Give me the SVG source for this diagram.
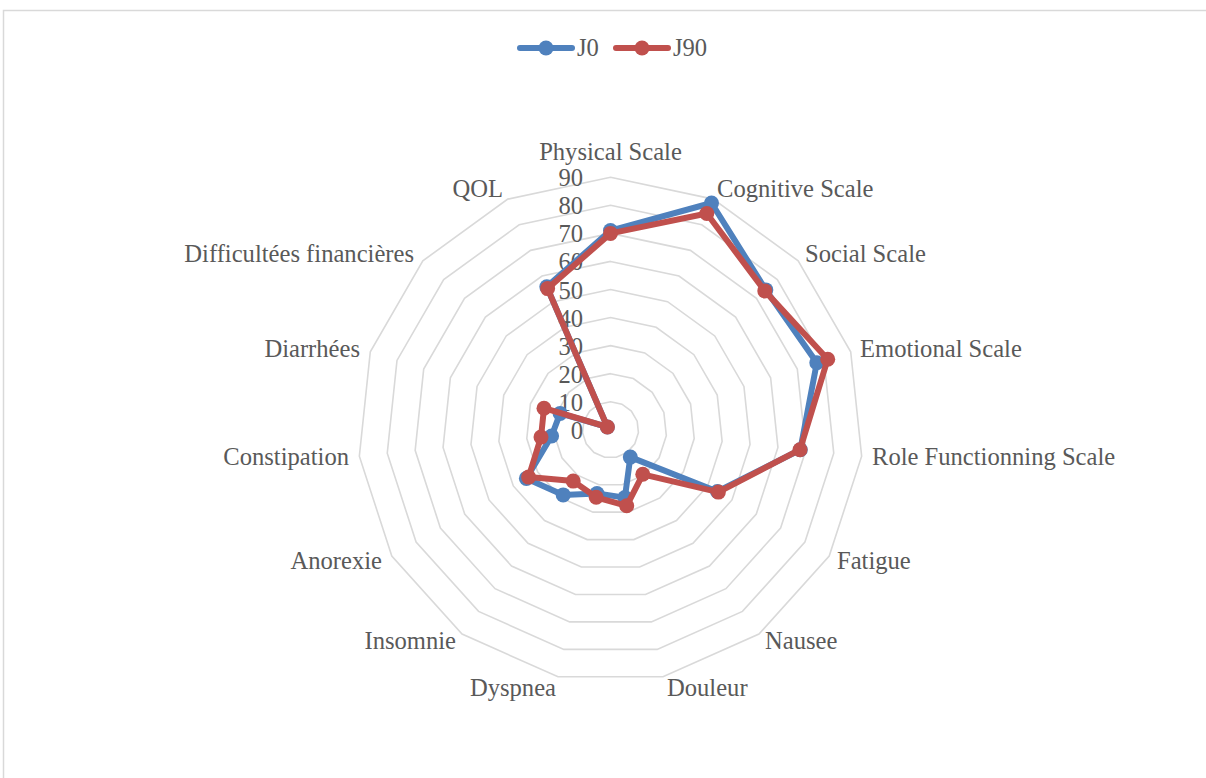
<svg xmlns="http://www.w3.org/2000/svg" width="1206" height="778" viewBox="0 0 1206 778">
<style>
.frame{fill:#ffffff;stroke:#d9d9d9;stroke-width:1.5}
.ring{fill:none;stroke:#d9d9d9;stroke-width:1.6;vector-effect:non-scaling-stroke}
.lbl{font-family:"Liberation Serif","Times New Roman",serif;font-size:24.6px;fill:#595959}
.tick{font-family:"Liberation Serif","Times New Roman",serif;font-size:24.6px;fill:#595959;text-anchor:end}
.s0{fill:none;stroke:#4f81bd;stroke-width:6;stroke-linejoin:round;stroke-linecap:round}
.s1{fill:none;stroke:#c0504d;stroke-width:6;stroke-linejoin:round;stroke-linecap:round}
.m0{fill:#4f81bd}
.m1{fill:#c0504d}
</style>
<rect x="0" y="0" width="1206" height="778" fill="#ffffff"/>
<rect class="frame" x="3.5" y="10.5" width="1240" height="800"/>
<g id="grid">
<polygon class="ring" transform="translate(610.5 429.8) scale(0.2806)" points="0,-100 40.67,-91.35 74.31,-66.91 95.11,-30.90 99.45,10.45 86.60,50 58.78,80.90 20.79,97.81 -20.79,97.81 -58.78,80.90 -86.60,50 -99.45,10.45 -95.11,-30.90 -74.31,-66.91 -40.67,-91.35"/>
<polygon class="ring" transform="translate(610.5 429.8) scale(0.5612)" points="0,-100 40.67,-91.35 74.31,-66.91 95.11,-30.90 99.45,10.45 86.60,50 58.78,80.90 20.79,97.81 -20.79,97.81 -58.78,80.90 -86.60,50 -99.45,10.45 -95.11,-30.90 -74.31,-66.91 -40.67,-91.35"/>
<polygon class="ring" transform="translate(610.5 429.8) scale(0.8418)" points="0,-100 40.67,-91.35 74.31,-66.91 95.11,-30.90 99.45,10.45 86.60,50 58.78,80.90 20.79,97.81 -20.79,97.81 -58.78,80.90 -86.60,50 -99.45,10.45 -95.11,-30.90 -74.31,-66.91 -40.67,-91.35"/>
<polygon class="ring" transform="translate(610.5 429.8) scale(1.1224)" points="0,-100 40.67,-91.35 74.31,-66.91 95.11,-30.90 99.45,10.45 86.60,50 58.78,80.90 20.79,97.81 -20.79,97.81 -58.78,80.90 -86.60,50 -99.45,10.45 -95.11,-30.90 -74.31,-66.91 -40.67,-91.35"/>
<polygon class="ring" transform="translate(610.5 429.8) scale(1.403)" points="0,-100 40.67,-91.35 74.31,-66.91 95.11,-30.90 99.45,10.45 86.60,50 58.78,80.90 20.79,97.81 -20.79,97.81 -58.78,80.90 -86.60,50 -99.45,10.45 -95.11,-30.90 -74.31,-66.91 -40.67,-91.35"/>
<polygon class="ring" transform="translate(610.5 429.8) scale(1.6836)" points="0,-100 40.67,-91.35 74.31,-66.91 95.11,-30.90 99.45,10.45 86.60,50 58.78,80.90 20.79,97.81 -20.79,97.81 -58.78,80.90 -86.60,50 -99.45,10.45 -95.11,-30.90 -74.31,-66.91 -40.67,-91.35"/>
<polygon class="ring" transform="translate(610.5 429.8) scale(1.9642)" points="0,-100 40.67,-91.35 74.31,-66.91 95.11,-30.90 99.45,10.45 86.60,50 58.78,80.90 20.79,97.81 -20.79,97.81 -58.78,80.90 -86.60,50 -99.45,10.45 -95.11,-30.90 -74.31,-66.91 -40.67,-91.35"/>
<polygon class="ring" transform="translate(610.5 429.8) scale(2.2448)" points="0,-100 40.67,-91.35 74.31,-66.91 95.11,-30.90 99.45,10.45 86.60,50 58.78,80.90 20.79,97.81 -20.79,97.81 -58.78,80.90 -86.60,50 -99.45,10.45 -95.11,-30.90 -74.31,-66.91 -40.67,-91.35"/>
<polygon class="ring" transform="translate(610.5 429.8) scale(2.5254)" points="0,-100 40.67,-91.35 74.31,-66.91 95.11,-30.90 99.45,10.45 86.60,50 58.78,80.90 20.79,97.81 -20.79,97.81 -58.78,80.90 -86.60,50 -99.45,10.45 -95.11,-30.90 -74.31,-66.91 -40.67,-91.35"/>
</g>
<g id="ticks">
<text class="tick" x="583" y="438.8">0</text>
<text class="tick" x="583" y="410.7">10</text>
<text class="tick" x="583" y="382.7">20</text>
<text class="tick" x="583" y="354.6">30</text>
<text class="tick" x="583" y="326.6">40</text>
<text class="tick" x="583" y="298.5">50</text>
<text class="tick" x="583" y="270.4">60</text>
<text class="tick" x="583" y="242.4">70</text>
<text class="tick" x="583" y="214.3">80</text>
<text class="tick" x="583" y="186.3">90</text>
</g>
<g id="axis-labels">
<text id="lbl-physical" class="lbl" x="610.5" y="160" text-anchor="middle">Physical Scale</text>
<text id="lbl-cognitive" class="lbl" x="717" y="197">Cognitive Scale</text>
<text id="lbl-social" class="lbl" x="805" y="261.5">Social Scale</text>
<text id="lbl-emotional" class="lbl" x="860" y="357">Emotional Scale</text>
<text id="lbl-role" class="lbl" x="872" y="464.5">Role Functionning Scale</text>
<text id="lbl-fatigue" class="lbl" x="837" y="569">Fatigue</text>
<text id="lbl-nausee" class="lbl" x="765" y="649">Nausee</text>
<text id="lbl-douleur" class="lbl" x="667" y="696">Douleur</text>
<text id="lbl-dyspnea" class="lbl" x="556" y="696" text-anchor="end">Dyspnea</text>
<text id="lbl-insomnie" class="lbl" x="456" y="649" text-anchor="end">Insomnie</text>
<text id="lbl-anorexie" class="lbl" x="382" y="569" text-anchor="end">Anorexie</text>
<text id="lbl-constipation" class="lbl" x="349" y="464.5" text-anchor="end">Constipation</text>
<text id="lbl-diarrhees" class="lbl" x="360" y="357" text-anchor="end">Diarrhées</text>
<text id="lbl-difficultes" class="lbl" x="414" y="261.5" text-anchor="end">Difficultées financières</text>
<text id="lbl-qol" class="lbl" x="503" y="197" text-anchor="end">QOL</text>
</g>
<g id="series-J0">
<polygon class="s0" points="610.5,230.6 711.5,203.0 765.8,289.9 816.8,362.8 800.3,449.7 717.4,491.5 630.3,457.1 624.9,497.6 597.0,493.5 563.2,494.9 526.4,478.4 551.6,436.0 560.1,413.4 607.4,427.0 546.8,286.7"/>
<circle class="m0" cx="610.5" cy="230.6" r="7.5"/>
<circle class="m0" cx="711.5" cy="203.0" r="7.5"/>
<circle class="m0" cx="765.8" cy="289.9" r="7.5"/>
<circle class="m0" cx="816.8" cy="362.8" r="7.5"/>
<circle class="m0" cx="800.3" cy="449.7" r="7.5"/>
<circle class="m0" cx="717.4" cy="491.5" r="7.5"/>
<circle class="m0" cx="630.3" cy="457.1" r="7.5"/>
<circle class="m0" cx="624.9" cy="497.6" r="7.5"/>
<circle class="m0" cx="597.0" cy="493.5" r="7.5"/>
<circle class="m0" cx="563.2" cy="494.9" r="7.5"/>
<circle class="m0" cx="526.4" cy="478.4" r="7.5"/>
<circle class="m0" cx="551.6" cy="436.0" r="7.5"/>
<circle class="m0" cx="560.1" cy="413.4" r="7.5"/>
<circle class="m0" cx="607.4" cy="427.0" r="7.5"/>
<circle class="m0" cx="546.8" cy="286.7" r="7.5"/>
</g>
<g id="series-J90">
<polygon class="s1" points="610.5,233.4 706.8,213.5 764.8,290.9 827.7,359.2 800.0,449.7 718.4,492.1 642.8,474.3 626.7,505.8 596.2,497.3 573.2,481.1 528.6,477.1 541.0,437.1 544.0,408.2 607.4,427.0 547.6,288.6"/>
<circle class="m1" cx="610.5" cy="233.4" r="7.5"/>
<circle class="m1" cx="706.8" cy="213.5" r="7.5"/>
<circle class="m1" cx="764.8" cy="290.9" r="7.5"/>
<circle class="m1" cx="827.7" cy="359.2" r="7.5"/>
<circle class="m1" cx="800.0" cy="449.7" r="7.5"/>
<circle class="m1" cx="718.4" cy="492.1" r="7.5"/>
<circle class="m1" cx="642.8" cy="474.3" r="7.5"/>
<circle class="m1" cx="626.7" cy="505.8" r="7.5"/>
<circle class="m1" cx="596.2" cy="497.3" r="7.5"/>
<circle class="m1" cx="573.2" cy="481.1" r="7.5"/>
<circle class="m1" cx="528.6" cy="477.1" r="7.5"/>
<circle class="m1" cx="541.0" cy="437.1" r="7.5"/>
<circle class="m1" cx="544.0" cy="408.2" r="7.5"/>
<circle class="m1" cx="607.4" cy="427.0" r="7.5"/>
<circle class="m1" cx="547.6" cy="288.6" r="7.5"/>
</g>
<g id="legend">
<line class="s0" x1="520" y1="48" x2="572" y2="48"/>
<circle class="m0" cx="546" cy="48" r="7.5"/>
<text class="lbl" x="577" y="56">J0</text>
<line class="s1" x1="616" y1="48" x2="668" y2="48"/>
<circle class="m1" cx="642" cy="48" r="7.5"/>
<text class="lbl" x="673" y="56">J90</text>
</g>
</svg>
